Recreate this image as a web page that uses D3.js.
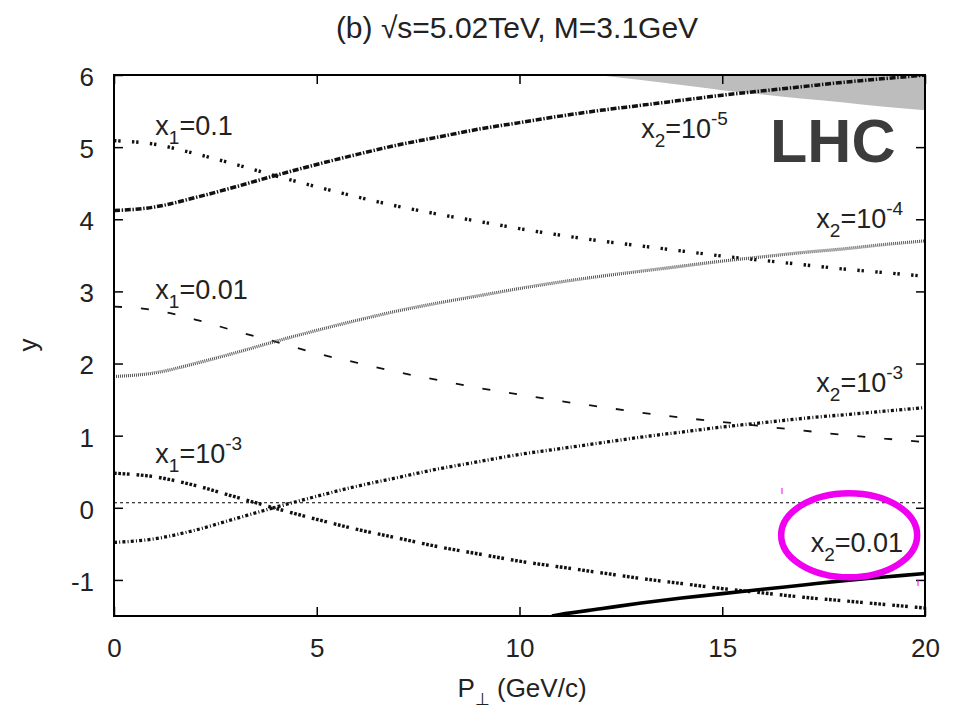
<!DOCTYPE html>
<html>
<head>
<meta charset="utf-8">
<script src="https://cdn.jsdelivr.net/npm/d3@7"></script>
<style>
  body { margin: 0; background: #fff; }
  text { font-family: "Liberation Sans", Arial, Helvetica, sans-serif; }
</style>
</head>
<body>
<div id="chart"></div>
<script>
// values, pT in GeV/c
const pt = [0,1,2,3,4,5,6,7,8,9,10,11,12,13,14,15,16,17,18,19,20];
const x1e1 = [5.09,5.04,4.91,4.76,4.60,4.45,4.31,4.18,4.07,3.97,3.87,3.78,3.70,3.63,3.56,3.49,3.43,3.37,3.31,3.26,3.21];
const x1e2 = [2.79,2.74,2.61,2.45,2.30,2.14,2.01,1.88,1.77,1.66,1.57,1.48,1.40,1.32,1.25,1.19,1.13,1.07,1.01,0.96,0.91];
const x1e3 = [0.48,0.43,0.31,0.15,-0.01,-0.16,-0.30,-0.42,-0.54,-0.64,-0.74,-0.82,-0.90,-0.98,-1.05,-1.12,-1.18,-1.24,-1.29,-1.34,-1.39];
const x2e5 = [4.12,4.17,4.30,4.45,4.61,4.76,4.90,5.03,5.14,5.25,5.34,5.43,5.51,5.58,5.65,5.72,5.78,5.84,5.90,5.95,6.00];
const x2e4 = [1.82,1.87,2.00,2.15,2.31,2.46,2.60,2.73,2.84,2.94,3.04,3.13,3.21,3.28,3.35,3.42,3.48,3.54,3.59,3.65,3.70];
const x2e3 = [-0.48,-0.43,-0.31,-0.15,0.01,0.16,0.30,0.42,0.54,0.64,0.74,0.82,0.90,0.98,1.05,1.12,1.18,1.24,1.29,1.34,1.39];
const ptX2e2 = [10.8,11,12,13,14,15,16,17,18,19,20];
const x2e2 = [-1.50,-1.48,-1.40,-1.32,-1.25,-1.19,-1.13,-1.07,-1.01,-0.96,-0.91];
// kinematic limit (grey band, top right)
const ptLimit = [11.9,13,14,15,16,17,18,19,20];
const yLimit = [6.00,5.93,5.86,5.79,5.73,5.67,5.62,5.56,5.51];
const refY = 0.07;

const xTicks = [0,5,10,15,20];
const yTicks = [-1,0,1,2,3,4,5,6];

const W = 963, H = 714;
const margin = ({top: 75, right: 38, bottom: 98, left: 114});

const svg = d3.select("#chart")
  .append("svg")
  .attr("width", W)
  .attr("height", H);

const xScale = d3.scaleLinear().domain([0, 20]).range([margin.left, W - margin.right]);
const yScale = d3.scaleLinear().domain([-1.5, 6]).range([H - margin.bottom, margin.top]);

const x0 = xScale(0), x20 = xScale(20), yTop = yScale(6), yBot = yScale(-1.5);

svg.append("clipPath").attr("id", "plot")
  .append("rect")
  .attr("x", x0).attr("y", yTop)
  .attr("width", x20 - x0).attr("height", yBot - yTop);

const plot = svg.append("g").attr("clip-path", "url(#plot)");

// grey band
const band = ptLimit.map((p, i) => [p, yLimit[i]]);
plot.append("path")
  .datum(band)
  .attr("fill", "#bdbdbd")
  .attr("d", d3.area()
    .x(d => xScale(d[0]))
    .y0(yTop)
    .y1(d => yScale(d[1]))
    .curve(d3.curveMonotoneX));

// horizontal reference line
plot.append("line")
  .attr("x1", x0).attr("x2", x20)
  .attr("y1", yScale(refY)).attr("y2", yScale(refY))
  .attr("stroke", "#000")
  .attr("stroke-width", 1)
  .attr("stroke-dasharray", "3,3");

const series = [
  {xs: pt, ys: x1e1, width: 3.4, dash: "2.4,1.8,2.4,11.4", color: "#111"},
  {xs: pt, ys: x1e2, width: 1.8, dash: "8,19", color: "#111"},
  {xs: pt, ys: x1e3, width: 3.4, dash: "2.7,1.6,2.7,1.6,2.7,1.6,2.7,7", color: "#111"},
  {xs: pt, ys: x2e5, width: 3.5, dash: "6,1.7,1.4,1.7", color: "#111"},
  {xs: pt, ys: x2e4, width: 3.2, dash: "1,1", color: "#555"},
  {xs: pt, ys: x2e3, width: 3.3, dash: "3,2.2,1,2.2", color: "#111"},
  {xs: ptX2e2, ys: x2e2, width: 3.6, dash: null, color: "#000"}
];

const line = d3.line()
  .x(d => xScale(d[0]))
  .y(d => yScale(d[1]))
  .curve(d3.curveMonotoneX);

series.forEach(s => {
  plot.append("path")
    .datum(s.xs.map((p, i) => [p, s.ys[i]]))
    .attr("fill", "none")
    .attr("stroke", s.color)
    .attr("stroke-width", s.width)
    .attr("stroke-dasharray", s.dash)
    .attr("d", line);
});

// axes: inner ticks on all four sides
const fontTick = 26;
const styleAxis = g => {
  g.select(".domain").remove();
  g.selectAll(".tick line").attr("stroke", "#000").attr("stroke-width", 1.5);
  g.selectAll(".tick text")
    .attr("fill", "#222")
    .style("font-size", fontTick + "px")
    .style("font-family", '"Liberation Sans", Arial, sans-serif');
};

svg.append("g")
  .attr("transform", `translate(0,${yBot})`)
  .call(d3.axisBottom(xScale).tickValues(xTicks).tickSize(-9).tickPadding(23).tickFormat(d => String(d)))
  .call(styleAxis);

svg.append("g")
  .attr("transform", `translate(0,${yTop})`)
  .call(d3.axisTop(xScale).tickValues(xTicks).tickSize(-9).tickFormat(""))
  .call(styleAxis);

svg.append("g")
  .attr("transform", `translate(${x0},0)`)
  .call(d3.axisLeft(yScale).tickValues(yTicks).tickSize(-9).tickPadding(20).tickFormat(d => String(d)))
  .call(styleAxis)
  .selectAll(".tick text").attr("dy", "0.4em");

svg.append("g")
  .attr("transform", `translate(${x20},0)`)
  .call(d3.axisRight(yScale).tickValues(yTicks).tickSize(-9).tickFormat(""))
  .call(styleAxis);

// frame
svg.append("rect")
  .attr("x", x0).attr("y", yTop)
  .attr("width", x20 - x0).attr("height", yBot - yTop)
  .attr("fill", "none")
  .attr("stroke", "#000")
  .attr("stroke-width", 2);

// title and axis labels
svg.append("text")
  .attr("x", 517).attr("y", 38)
  .attr("text-anchor", "middle")
  .attr("fill", "#222")
  .style("font-size", "30px")
  .text("(b) \u221As=5.02TeV, M=3.1GeV");

svg.append("text")
  .attr("transform", "translate(37,345) rotate(-90)")
  .attr("text-anchor", "middle")
  .attr("fill", "#222")
  .style("font-size", "26px")
  .text("y");

const xl = svg.append("text")
  .attr("x", 522).attr("y", 697)
  .attr("text-anchor", "middle")
  .attr("fill", "#222")
  .style("font-size", "26px");
xl.append("tspan").text("P");
xl.append("tspan").attr("dy", 8).style("font-size", "17px").text("\u22A5");
xl.append("tspan").attr("dy", -8).text(" (GeV/c)");

// curve labels
function label(sub, val, sup, px, py, anchor) {
  const t = svg.append("text")
    .attr("x", xScale(px)).attr("y", yScale(py))
    .attr("text-anchor", anchor)
    .attr("fill", "#222")
    .style("font-size", "27px");
  t.append("tspan").text("x");
  t.append("tspan").attr("dy", 9).style("font-size", "19px").text(sub);
  t.append("tspan").attr("dy", -9).text(val);
  if (sup) t.append("tspan").attr("dy", -13).style("font-size", "19px").text(sup);
}
label("1", "=0.1", null, 1.02, 5.17, "start");
label("1", "=0.01", null, 1.02, 2.89, "start");
label("1", "=10", "-3", 1.02, 0.62, "start");
label("2", "=10", "-5", 13.0, 5.13, "start");
label("2", "=10", "-4", 19.46, 3.88, "end");
label("2", "=10", "-3", 19.46, 1.61, "end");
label("2", "=0.01", null, 19.46, -0.61, "end");

svg.append("text")
  .attr("x", xScale(16.18)).attr("y", yScale(4.79))
  .attr("fill", "#3c3c3c")
  .style("font-size", "61px")
  .style("font-weight", "bold")
  .text("LHC");

// magenta highlight
svg.append("ellipse")
  .attr("cx", xScale(18.13)).attr("cy", yScale(-0.38))
  .attr("rx", 68).attr("ry", 42)
  .attr("fill", "none")
  .attr("stroke", "#f000f0")
  .attr("stroke-width", 6.5);
svg.append("line")
  .attr("x1", 782).attr("x2", 782).attr("y1", 488).attr("y2", 494)
  .attr("stroke", "#f000f0").attr("stroke-width", 1);
svg.append("line")
  .attr("x1", 918).attr("x2", 918).attr("y1", 580).attr("y2", 586)
  .attr("stroke", "#f000f0").attr("stroke-width", 1);
</script>
</body>
</html>
